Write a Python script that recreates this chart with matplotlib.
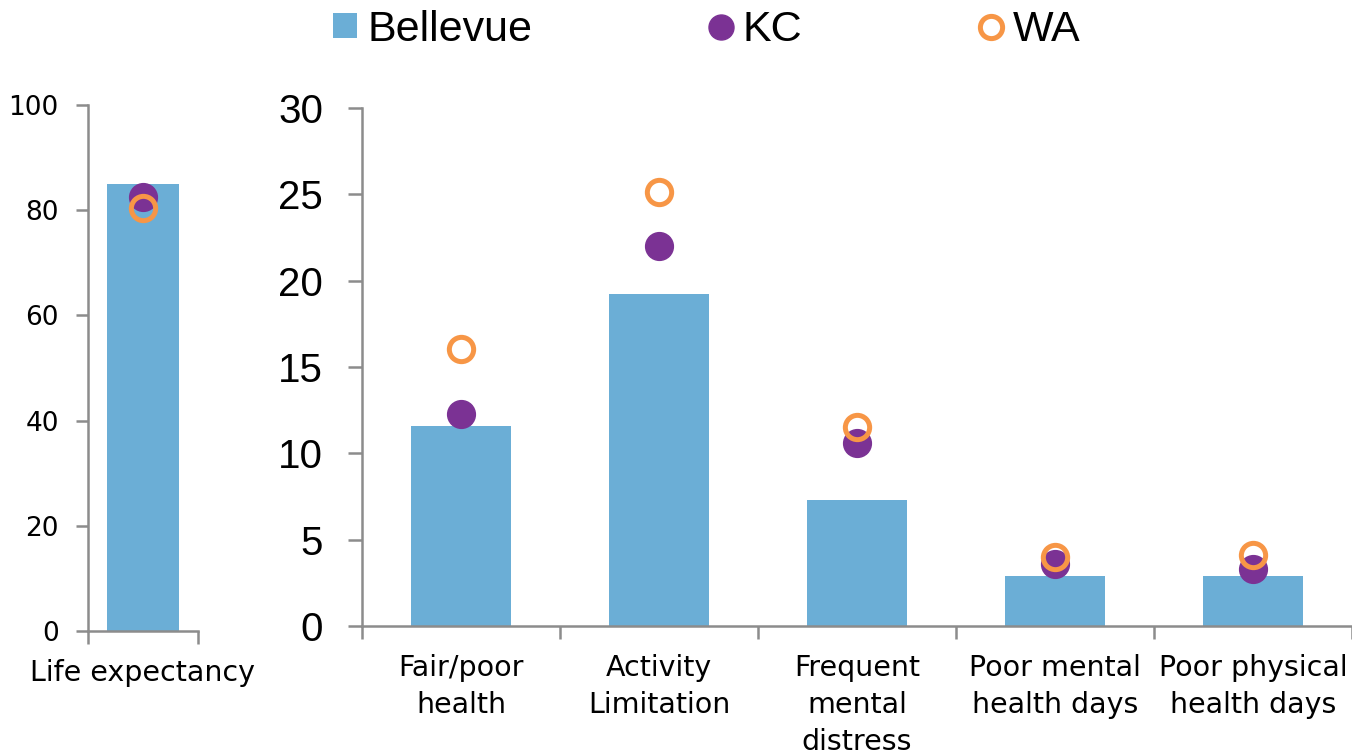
import matplotlib
matplotlib.use("Agg")
import matplotlib.pyplot as plt
from matplotlib.lines import Line2D
from matplotlib.patches import Patch

# ---- data ----
left_categories = ["Life expectancy"]
left_bellevue = [85.0]
left_kc = [82.5]
left_wa = [80.4]

categories = ["Fair/poor\nhealth", "Activity\nLimitation", "Frequent\nmental\ndistress",
              "Poor mental\nhealth days", "Poor physical\nhealth days"]
bellevue = [11.6, 19.2, 7.3, 2.9, 2.9]
kc = [12.3, 22.0, 10.6, 3.6, 3.3]
wa = [16.05, 25.15, 11.5, 4.0, 4.1]

left_yticks = [0, 20, 40, 60, 80, 100]
right_yticks = [0, 5, 10, 15, 20, 25, 30]
series_names = ["Bellevue", "KC", "WA"]

# ---- style ----
BAR = "#6BAED6"
PURPLE = "#7B3294"
ORANGE = "#F79646"
SPINE = "#8C8C8C"
W, H = 1352, 752

fig = plt.figure(figsize=(W / 100, H / 100), dpi=100)

def frac(x0, y0, x1, y1):
    return [x0 / W, 1 - y1 / H, (x1 - x0) / W, (y1 - y0) / H]

narrow = ["Liberation Sans", "DejaVu Sans"]

def style_axes(ax):
    for s in ["top", "right"]:
        ax.spines[s].set_visible(False)
    for s in ["left", "bottom"]:
        ax.spines[s].set_color(SPINE)
        ax.spines[s].set_linewidth(1.8)

# ---- left panel ----
axL = fig.add_axes(frac(88, 105, 198, 631))
xl = list(range(len(left_categories)))
axL.bar(xl, left_bellevue, width=0.655, color=BAR, zorder=2)
axL.plot(xl, left_kc, "o", ms=20, color=PURPLE, mec=PURPLE, zorder=3)
axL.plot(xl, left_wa, "o", ms=17.5, mfc="none", mec=ORANGE, mew=3.6, zorder=4)
axL.set_xlim(-0.5, 0.5)
axL.set_ylim(0, 100)
axL.set_yticks(left_yticks)
axL.set_yticklabels([str(v) for v in left_yticks], fontsize=19, family="DejaVu Sans")
axL.tick_params(axis="y", length=9, width=1.8, color=SPINE, pad=12)
axL.set_xticks(xl)
axL.set_xticklabels(left_categories, fontsize=20.5, family="DejaVu Sans")
axL.tick_params(axis="x", which="major", length=0, pad=20)
axL.set_xticks([-0.5, 0.5], minor=True)
axL.tick_params(axis="x", which="minor", length=9, width=1.8, color=SPINE, direction="out")
style_axes(axL)

# ---- right panel ----
axR = fig.add_axes(frac(362, 108, 1352, 626))
xr = list(range(len(categories)))
axR.bar(xr, bellevue, width=0.505, color=BAR, zorder=2)
axR.plot(xr, kc, "o", ms=20, color=PURPLE, mec=PURPLE, zorder=3, linestyle="none")
axR.plot(xr, wa, "o", ms=17.5, mfc="none", mec=ORANGE, mew=3.6, zorder=4, linestyle="none")
axR.set_xlim(-0.5, len(categories) - 0.5)
axR.set_ylim(0, 30)
axR.set_yticks(right_yticks)
axR.set_yticklabels([str(v) for v in right_yticks], fontsize=29, family=narrow)
axR.tick_params(axis="y", length=10, width=1.8, color=SPINE, pad=18)
axR.set_xticks(xr)
axR.set_xticklabels(categories, fontsize=20.5, family="DejaVu Sans", linespacing=1.42)
axR.tick_params(axis="x", which="major", length=0, pad=20)
axR.set_xticks([i - 0.5 for i in range(len(categories) + 1)], minor=True)
axR.tick_params(axis="x", which="minor", length=9, width=1.8, color=SPINE, direction="out")
style_axes(axR)

# ---- legend ----
fs = 31
handles = [
    Patch(facecolor=BAR, edgecolor="none"),
    Line2D([], [], marker="o", linestyle="none", ms=18, color=PURPLE),
    Line2D([], [], marker="o", linestyle="none", ms=16, mfc="none", mec=ORANGE, mew=3.6),
]
leg = fig.legend(handles, series_names, loc="center left",
                 bbox_to_anchor=(333 / W, 1 - 30 / H), ncol=3, frameon=False,
                 prop={"family": narrow, "size": fs},
                 borderpad=0, borderaxespad=0, handlelength=0.56, handleheight=0.51,
                 handletextpad=0.23, columnspacing=4.1)

fig.savefig("out.png", dpi=100)
